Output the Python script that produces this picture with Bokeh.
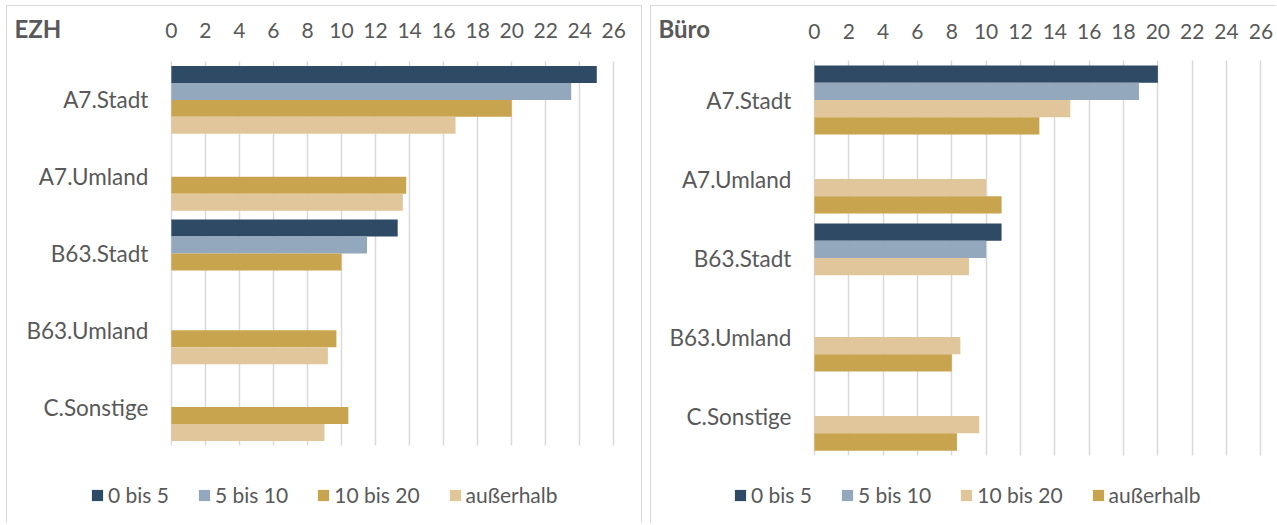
from bokeh.plotting import figure
from bokeh.models import (Range1d, FixedTicker, Legend, LegendItem, Label, ColumnDataSource, Grid)
from bokeh.layouts import row
from bokeh.embed import file_html
from bokeh.resources import INLINE

# ---------------- data ----------------
categories = ["A7.Stadt", "A7.Umland", "B63.Stadt", "B63.Umland", "C.Sonstige"]
series = ["0 bis 5", "5 bis 10", "10 bis 20", "außerhalb"]
x_ticks = [0, 2, 4, 6, 8, 10, 12, 14, 16, 18, 20, 22, 24, 26]

ezh_0_5 = [25.0, None, 13.3, None, None]
ezh_5_10 = [23.5, None, 11.5, None, None]
ezh_10_20 = [20.0, 13.8, 10.0, 9.7, 10.4]
ezh_ausserhalb = [16.7, 13.6, None, 9.2, 9.0]

buero_0_5 = [20.0, None, 10.9, None, None]
buero_5_10 = [18.9, None, 10.0, None, None]
buero_10_20 = [14.9, 10.0, 9.0, 8.5, 9.6]
buero_ausserhalb = [13.1, 10.9, None, 8.0, 8.3]

DARK = "#2E4A65"
BLUE = "#93A8BC"
GOLD = "#C9A44F"
BEIGE = "#E0C69A"
TEXT = "#595959"
GRID = "#D9D9D9"
FONT = "Lato"

n = len(categories)
cat_pos = {c: n - 1 - i for i, c in enumerate(categories)}   # top category highest
y_lo, y_hi = -0.5, n - 0.5                                     # extent of the category bands

HAS_CROSS = "cross_bounds" in Grid.properties()


def make_panel(title, values, colors, width, height, xr, yr, legend_loc, title_xy,
               bar_h, x_standoff, border):
    p = figure(width=width, height=height, output_backend="svg", toolbar_location=None,
               x_range=Range1d(*xr), y_range=Range1d(*yr), min_border=0,
               x_axis_location="above", y_axis_location="left")
    p.outline_line_color = None
    p.background_fill_color = "white"
    p.border_fill_color = "white"
    p.styles = border

    xa = p.xaxis[0]
    xa.fixed_location = y_hi
    xa.ticker = FixedTicker(ticks=x_ticks)
    xa.axis_line_color = None
    xa.major_tick_line_color = None
    xa.minor_tick_line_color = None
    xa.major_label_text_font = FONT
    xa.major_label_text_font_size = "21px"
    xa.major_label_text_color = TEXT
    xa.major_label_standoff = x_standoff

    ya = p.yaxis[0]
    ya.fixed_location = 0
    ya.ticker = FixedTicker(ticks=[cat_pos[c] for c in categories])
    ya.major_label_overrides = {cat_pos[c]: c for c in categories}
    ya.axis_line_color = None
    ya.major_tick_line_color = None
    ya.minor_tick_line_color = None
    ya.major_label_text_font = FONT
    ya.major_label_text_font_size = "22.5px"
    ya.major_label_text_color = TEXT
    ya.major_label_standoff = 17

    p.ygrid.grid_line_color = None
    if HAS_CROSS:
        g = p.xgrid[0]
        g.ticker = FixedTicker(ticks=x_ticks)
        g.cross_bounds = (y_lo, y_hi)
        g.grid_line_color = GRID
        g.grid_line_width = 1.5
    else:
        p.xgrid.grid_line_color = None
        p.segment(x0=x_ticks, x1=x_ticks, y0=[y_lo] * len(x_ticks), y1=[y_hi] * len(x_ticks),
                  line_color=GRID, line_width=1.5, level="underlay")

    offsets = [1.5 * bar_h, 0.5 * bar_h, -0.5 * bar_h, -1.5 * bar_h]
    items = []
    for name, vals, col, off in zip(series, values, colors, offsets):
        yy = [cat_pos[c] + off for c, v in zip(categories, vals) if v is not None]
        vv = [v for v in vals if v is not None]
        src = ColumnDataSource(dict(y=yy, val=vv))
        r = p.hbar(y="y", left=0, right="val", height=bar_h, source=src,
                   fill_color=col, line_color=None)
        items.append(LegendItem(label=name, renderers=[r]))

    leg = Legend(items=items, orientation="horizontal", location=legend_loc,
                 glyph_width=14, glyph_height=14, label_standoff=4, spacing=28,
                 padding=0, margin=0, border_line_color=None, background_fill_alpha=0,
                 label_text_font=FONT, label_text_font_size="21px", label_text_color=TEXT,
                 label_height=20)
    p.add_layout(leg)

    p.add_layout(Label(x=title_xy[0], y=title_xy[1], text=title, text_font=FONT,
                       text_font_style="bold", text_font_size="24px", text_color=TEXT,
                       text_baseline="middle", text_align="left"))
    return p


border_left = {"border-left": "1px solid #D9D9D9", "border-top": "1px solid #D9D9D9",
               "border-right": "1px solid #D9D9D9"}
border_right = {"border-left": "1px solid #D9D9D9", "border-top": "1px solid #D9D9D9"}

p1 = make_panel("EZH", [ezh_0_5, ezh_5_10, ezh_10_20, ezh_ausserhalb],
                [DARK, BLUE, GOLD, BEIGE], 636, 518,
                (-9.629, 27.746), (-1.529, 5.216), (83, 17), (-9.22, 4.93),
                0.221, 17, border_left)
p2 = make_panel("Büro", [buero_0_5, buero_5_10, buero_10_20, buero_ausserhalb],
                [DARK, BLUE, BEIGE, GOLD], 626, 518,
                (-9.486, 26.967), (-1.373, 5.1835), (82, 17), (-9.08, 4.905),
                0.219, 16, border_right)

layout = row(p1, p2, spacing=8, margin=(5, 0, 0, 6))
open("out.html", "w").write(file_html(layout, INLINE))
